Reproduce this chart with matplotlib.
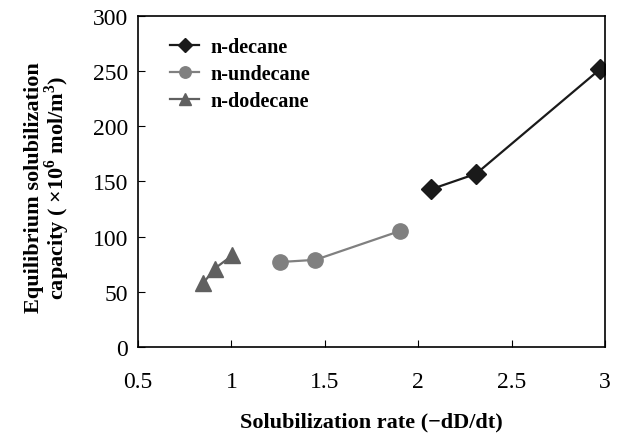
import matplotlib
matplotlib.use("Agg")
import matplotlib.pyplot as plt

plt.rcParams['font.family'] = 'Liberation Serif'
plt.rcParams['mathtext.fontset'] = 'custom'
plt.rcParams['mathtext.rm'] = 'Liberation Serif'
plt.rcParams['mathtext.bf'] = 'Liberation Serif:bold'

# tasa de solubilización (x) y capacidad de equilibrio (y) por alcano
decano_x = [2.07, 2.31, 2.975]
decano_y = [143, 157, 252]
undecano_x = [1.26, 1.45, 1.90]
undecano_y = [77, 79, 105]
dodecano_x = [0.85, 0.91, 1.005]
dodecano_y = [58, 71, 83]

etiquetas = ["n-decane", "n-undecane", "n-dodecane"]

fig = plt.figure(figsize=(6.26, 4.35), dpi=100)
ax = fig.add_axes([0.2204, 0.2, 0.7461, 0.761])

ax.plot(decano_x, decano_y, color="#1a1a1a", marker="D", markersize=10, lw=1.6, label=etiquetas[0])
ax.plot(undecano_x, undecano_y, color="#808080", marker="o", markersize=11, lw=1.6, label=etiquetas[1])
ax.plot(dodecano_x, dodecano_y, color="#606060", marker="^", markersize=11, lw=1.6, label=etiquetas[2])

ax.set_xlim(0.5, 3)
ax.set_ylim(0, 300)
ax.set_xticks([0.5, 1, 1.5, 2, 2.5, 3])
ax.set_xticklabels(["0.5", "1", "1.5", "2", "2.5", "3"])
ax.set_yticks([0, 50, 100, 150, 200, 250, 300])
ax.tick_params(direction="in", length=5, labelsize=17)
ax.tick_params(axis="x", pad=17)
ax.tick_params(axis="y", pad=7)
for s in ax.spines.values():
    s.set_linewidth(1.2)

ax.set_xlabel("Solubilization rate (\u2212dD/dt)", fontsize=16, fontweight="bold", labelpad=14)
ax.set_ylabel("Equilibrium solubilization\ncapacity ( \u00d710$^{\\mathbf{6}}$ mol/m$^{\\mathbf{3}}$)",
              fontsize=16, fontweight="bold", labelpad=15, linespacing=0.95)
ax.yaxis.label.set_y(0.485)

ax.legend(loc="upper left", bbox_to_anchor=(0.03, 0.99), frameon=False,
          prop={"weight": "bold", "size": 14.5}, handlelength=1.45, handletextpad=0.55,
          labelspacing=0.35, markerscale=0.75)

fig.savefig("out.png", dpi=100)
